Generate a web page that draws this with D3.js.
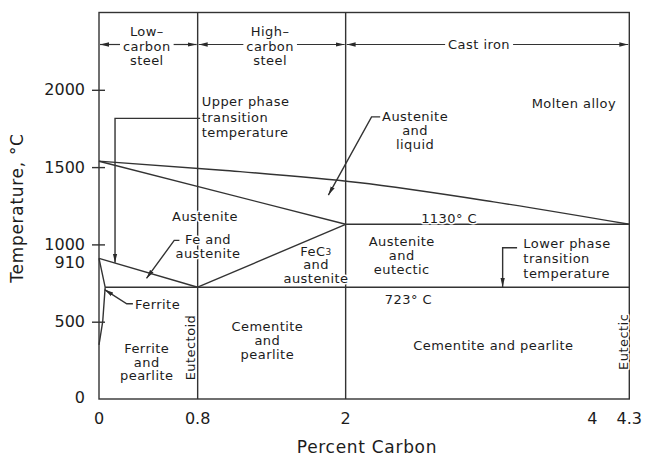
<!DOCTYPE html>
<html>
<head>
<meta charset="utf-8">
<script src="https://cdn.jsdelivr.net/npm/d3@7"></script>
<style>
  html, body { margin: 0; padding: 0; background: #fff; }
  svg text { font-family: "DejaVu Sans", "Open Sans", sans-serif; fill: #1c1c1c; }
  .ann { font-size: 13px; letter-spacing: 0.45px; stroke: #fff; stroke-width: 3px; stroke-linejoin: round; paint-order: stroke; }
  .tick-label { font-size: 16px; }
  .title { font-size: 17px; letter-spacing: 0.7px; }
  .bound { fill: none; stroke: #333; stroke-width: 1.4px; }
</style>
</head>
<body>
<svg id="chart" width="645" height="457"></svg>
<script>
// Axis ticks and labels
const carbonTicks = [0, 0.8, 2, 4, 4.3];
const carbonTickLabels = ["0", "0.8", "2", "4", "4.3"];
const tempTicks = [500, 1000, 1500, 2000];
const tempLabels = [0, 500, 910, 1000, 1500, 2000];

// Phase boundaries (percent carbon, °C)
const liquidusC = [0, 1, 2.1, 3.2, 4.3];
const liquidusT = [1538, 1480, 1400, 1275, 1130];
const solidusC = [0, 2];
const solidusT = [1538, 1130];
const eutecticC = [2, 4.3];
const eutecticT = [1130, 1130];
const eutectoidC = [0.05, 4.3];
const eutectoidT = [723, 723];
const upperTransC = [0, 0.8];
const upperTransT = [910, 723];
const cementiteC = [0.8, 2];
const cementiteT = [723, 1130];
const ferriteC = [0, 0.05, 0.03, 0];
const ferriteT = [910, 723, 500, 350];
const dividerC = [0.8, 2];          // steel / cast iron class limits
const domainC = [0, 4.3];
const domainT = [0, 2500];

// Class ranges along the top
const classNames = [["Low–", "carbon", "steel"], ["High–", "carbon", "steel"], ["Cast iron"]];
const classFrom = [0, 0.8, 2];
const classTo = [0.8, 2, 4.3];

const svg = d3.select("#chart");
const x = d3.scaleLinear().domain(domainC).range([99, 629.3]);
const y = d3.scaleLinear().domain(domainT).range([399, 12.5]);

const line = d3.line().x(d => x(d[0])).y(d => y(d[1]));
const zip = (cs, ts) => cs.map((c, i) => [c, ts[i]]);

// arrowhead
svg.append("defs").append("marker")
  .attr("id", "arrow").attr("viewBox", "0 -3 10 6")
  .attr("refX", 10).attr("refY", 0)
  .attr("markerUnits", "userSpaceOnUse")
  .attr("markerWidth", 9).attr("markerHeight", 5.4)
  .attr("orient", "auto")
  .append("path").attr("d", "M0,-2.4L10,0L0,2.4Z").attr("fill", "#2a2a2a");

const gLines = svg.append("g");

// frame
gLines.append("rect").attr("class", "bound")
  .attr("x", x(0)).attr("y", y(2500))
  .attr("width", x(4.3) - x(0)).attr("height", y(0) - y(2500));

// class dividers
dividerC.forEach(c => gLines.append("path").attr("class", "bound")
  .attr("d", line([[c, 0], [c, 2500]])));

// phase boundaries
gLines.append("path").attr("class", "bound")
  .attr("d", line.curve(d3.curveMonotoneX)(zip(liquidusC, liquidusT)));
line.curve(d3.curveLinear);
[[solidusC, solidusT], [eutecticC, eutecticT], [eutectoidC, eutectoidT],
 [upperTransC, upperTransT], [cementiteC, cementiteT], [ferriteC, ferriteT]]
  .forEach(([cs, ts]) => gLines.append("path").attr("class", "bound").attr("d", line(zip(cs, ts))));

// y axis ticks crossing the frame
const yAxis = d3.axisLeft(y).tickValues(tempTicks).tickSize(7).tickFormat("");
const ya = svg.append("g").attr("transform", `translate(${x(0)},0)`).call(yAxis);
ya.select(".domain").remove();
ya.selectAll(".tick line").attr("x1", 6).attr("stroke", "#333").attr("stroke-width", 1.4);

// tick labels
svg.append("g").selectAll("text").data(tempLabels).join("text")
  .attr("class", "tick-label").attr("text-anchor", "end")
  .attr("dominant-baseline", "central")
  .attr("x", 85).attr("y", d => y(d) + (d === 0 ? -1.5 : (d === 910 ? 4.5 : 0)))
  .text(d => d);
svg.append("g").selectAll("text").data(carbonTicks).join("text")
  .attr("class", "tick-label").attr("text-anchor", "middle")
  .attr("dominant-baseline", "central")
  .attr("x", d => x(d)).attr("y", 418)
  .text((d, i) => carbonTickLabels[i]);

// axis titles
svg.append("text").attr("class", "title").attr("text-anchor", "middle")
  .attr("x", 367).attr("y", 452.5).text("Percent Carbon");
svg.append("text").attr("class", "title").attr("text-anchor", "middle")
  .attr("dominant-baseline", "central")
  .attr("transform", "translate(17,208) rotate(-90)").text("Temperature, °C");

// multi-line annotation helper
function label(lines, c, t, anchor, lh, rotate) {
  const g = svg.append("g");
  lines.forEach((s, i) => {
    const tx = g.append("text").attr("class", "ann")
      .attr("text-anchor", anchor).attr("dominant-baseline", "central");
    if (rotate) {
      tx.attr("transform", `translate(${x(c)},${y(t)}) rotate(-90)`);
    } else {
      tx.attr("x", x(c)).attr("y", y(t) + i * lh);
    }
    if (s === "FeC3") {
      tx.append("tspan").text("FeC");
      tx.append("tspan").attr("font-size", "9px").attr("dy", 1.5).text("3");
    } else {
      tx.text(s);
    }
  });
  return g;
}

// class range labels with dimension arrows
const dimT = 2293;
classNames.forEach((lines, i) => {
  const cx = i === 2 ? 3.082 : x.invert((x(classFrom[i]) + x(classTo[i])) / 2 - 1.5);
  const t0 = lines.length === 3 ? 2378 : dimT;
  const g = label(lines, cx, t0, "middle", 14.8);
  const ref = g.selectAll("text").nodes()[lines.length === 3 ? 1 : 0].getBBox();
  const yy = y(dimT);
  svg.append("line").attr("x1", ref.x - 3).attr("x2", x(classFrom[i]) + 1)
    .attr("y1", yy).attr("y2", yy).attr("stroke", "#333").attr("stroke-width", 1.2)
    .attr("marker-end", "url(#arrow)");
  svg.append("line").attr("x1", ref.x + ref.width + 3).attr("x2", x(classTo[i]) - 1)
    .attr("y1", yy).attr("y2", yy).attr("stroke", "#333").attr("stroke-width", 1.2)
    .attr("marker-end", "url(#arrow)");
});

// leaders pointing at boundaries
const leaders = [
  [[0.82, 1815], [0.13, 1815], [0.13, 882]],
  [[2.28, 1825], [2.21, 1825], [1.86, 1319]],
  [[0.652, 1026], [0.61, 1026], [0.385, 780]],
  [[3.39, 978], [3.273, 978], [3.273, 725]],
  [[0.275, 616], [0.225, 616], [0.045, 708]]
];
leaders.forEach(p => svg.append("path").attr("class", "bound")
  .attr("stroke-width", 1.2).attr("d", line(p)).attr("marker-end", "url(#arrow)"));

// field and boundary labels
label(["Upper phase", "transition", "temperature"], 0.833, 1922, "start", 15.5);
label(["Molten alloy"], 3.508, 1912, "start", 15);
label(["Austenite", "and", "liquid"], 2.563, 1825, "middle", 13.7);
label(["Austenite"], 0.86, 1178, "middle", 14);
label(["Fe and", "austenite"], 0.884, 1032, "middle", 13.6);
label(["FeC3", "and", "austenite"], 1.76, 960, "middle", 14.2);
label(["Austenite", "and", "eutectic"], 2.455, 1017, "middle", 13.8);
label(["1130° C"], 2.839, 1168, "middle", 14);
label(["Lower phase", "transition", "temperature"], 3.441, 1007, "start", 15);
label(["723° C"], 2.509, 645, "middle", 14);
label(["Ferrite"], 0.292, 614, "start", 14);
label(["Ferrite", "and", "pearlite"], 0.387, 328, "middle", 13.8);
label(["Eutectoid"], 0.738, 333, "middle", 14, true);
label(["Cementite", "and", "pearlite"], 1.365, 472, "middle", 14);
label(["Cementite and pearlite"], 3.198, 343, "middle", 14);
label(["Eutectic"], 4.252, 370, "middle", 14, true);
</script>
</body>
</html>
